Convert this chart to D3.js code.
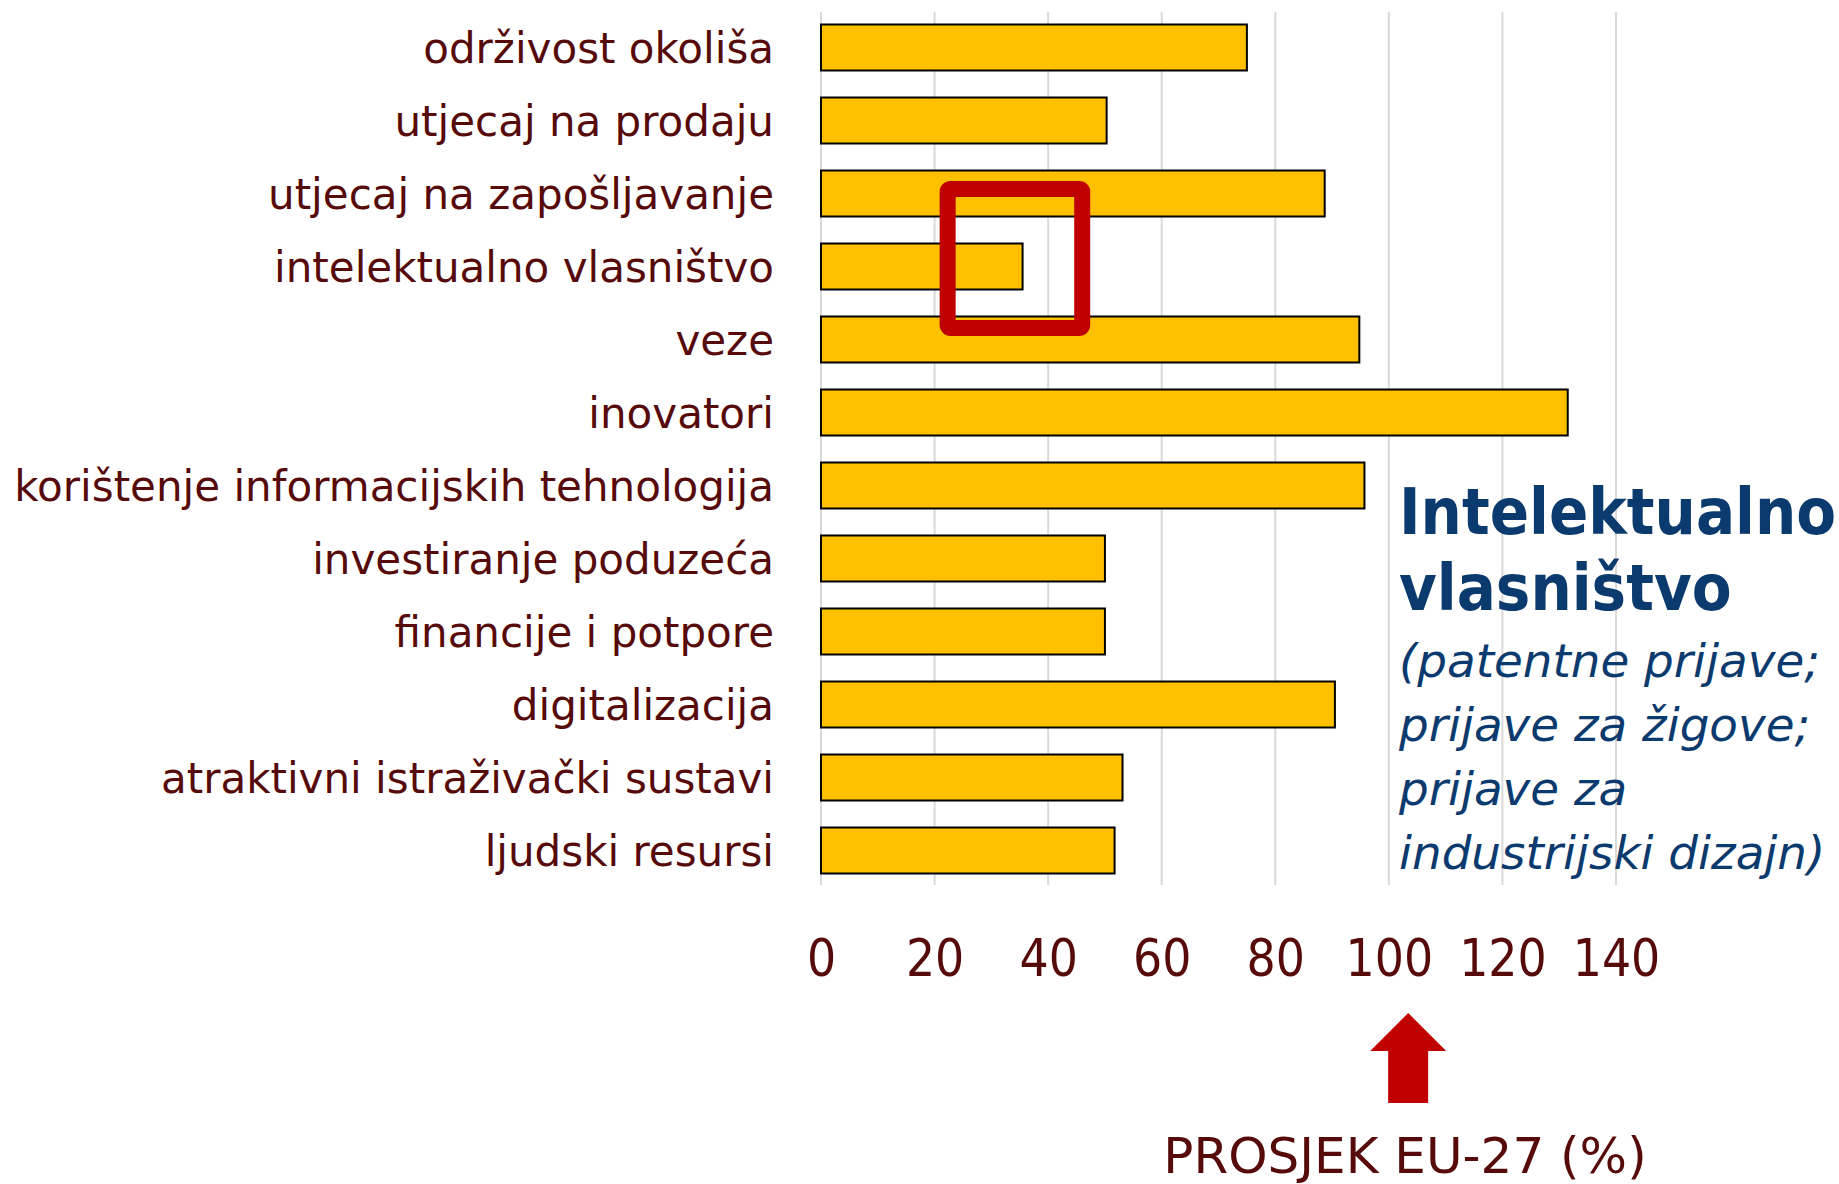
<!DOCTYPE html>
<html>
<head>
<meta charset="utf-8">
<script src="https://cdn.jsdelivr.net/npm/d3@7"></script>
<style>
  body { margin: 0; background: #fff; }
  svg { display: block; }
</style>
</head>
<body>
<div id="chart"></div>
<script>
// categories, top to bottom
const categories = [
  "održivost okoliša",
  "utjecaj na prodaju",
  "utjecaj na zapošljavanje",
  "intelektualno vlasništvo",
  "veze",
  "inovatori",
  "korištenje informacijskih tehnologija",
  "investiranje poduzeća",
  "financije i potpore",
  "digitalizacija",
  "atraktivni istraživački sustavi",
  "ljudski resursi"
];
// % of EU-27 average
const values = [75.0, 50.3, 88.7, 35.5, 94.8, 131.5, 95.7, 50.0, 50.0, 90.5, 53.1, 51.7];
const xTicks = [0, 20, 40, 60, 80, 100, 120, 140];
const titleLines = ["Intelektualno", "vlasništvo"];
const noteLines = ["(patentne prijave;", "prijave za žigove;", "prijave za", "industrijski dizajn)"];
const axisTitle = "PROSJEK EU-27 (%)";
const euMark = 103.4; // where the arrow points
const highlight = { from: "utjecaj na zapošljavanje", to: "veze", x0: 22.3, x1: 46 };

const W = 1839, H = 1184;
const labelColor = "#570a0a";
const navy = "#0b3a6e";
const red = "#c00000";
const wide = "'DejaVu Sans', sans-serif";
const narrow = "'DejaVu Sans Condensed', 'DejaVu Sans', sans-serif";

const svg = d3.select("#chart").append("svg")
  .attr("width", W)
  .attr("height", H)
  .style("font-family", wide);

const x = d3.scaleLinear()
  .domain([0, 140])
  .range([821, 1616]);

const y = d3.scaleBand()
  .domain(categories)
  .range([11, 887])
  .paddingInner(0.37)
  .paddingOuter(0.185);

// gridlines
svg.append("g")
  .selectAll("line")
  .data(xTicks)
  .join("line")
  .attr("x1", d => x(d))
  .attr("x2", d => x(d))
  .attr("y1", 12)
  .attr("y2", 885)
  .attr("stroke", "#d9d9d9")
  .attr("stroke-width", 2);

// bars
svg.append("g")
  .selectAll("rect")
  .data(values)
  .join("rect")
  .attr("x", x(0))
  .attr("y", (d, i) => y(categories[i]))
  .attr("width", d => x(d) - x(0))
  .attr("height", y.bandwidth())
  .attr("fill", "#ffc000")
  .attr("stroke", "#000")
  .attr("stroke-width", 2);

// category labels
svg.append("g")
  .selectAll("text")
  .data(categories)
  .join("text")
  .attr("x", 774)
  .attr("y", d => y(d) + y.bandwidth() / 2)
  .attr("dy", "0.36em")
  .attr("text-anchor", "end")
  .attr("fill", labelColor)
  .style("font-size", "42px")
  .text(d => d);

// x axis (labels only)
const xAxis = svg.append("g")
  .attr("transform", "translate(0,940)")
  .call(d3.axisBottom(x).tickValues(xTicks).tickSize(0).tickPadding(0));
xAxis.select(".domain").remove();
xAxis.selectAll("text")
  .attr("fill", labelColor)
  .attr("dy", "0.71em")
  .style("font-family", narrow)
  .style("font-size", "51px");

// red highlight box
svg.append("rect")
  .attr("x", x(highlight.x0))
  .attr("y", y(highlight.from) + y.bandwidth() * 0.4)
  .attr("width", x(highlight.x1) - x(highlight.x0))
  .attr("height", (y(highlight.to) + y.bandwidth() * 0.25) - (y(highlight.from) + y.bandwidth() * 0.4))
  .attr("rx", 3)
  .attr("fill", "none")
  .attr("stroke", red)
  .attr("stroke-width", 16);

// side note
const note = svg.append("text")
  .attr("x", 1399)
  .attr("fill", navy);
titleLines.forEach((t, i) => {
  note.append("tspan")
    .attr("x", 1399)
    .attr("y", 534 + i * 76)
    .style("font-family", narrow)
    .style("font-weight", "bold")
    .style("font-size", "64.5px")
    .text(t);
});
noteLines.forEach((t, i) => {
  note.append("tspan")
    .attr("x", 1399)
    .attr("y", 677 + i * 64)
    .style("font-style", "italic")
    .style("font-size", "46.8px")
    .text(t);
});

// arrow pointing at the EU average
const ax = x(euMark);
const arrow = d3.path();
arrow.moveTo(ax, 1013);
arrow.lineTo(ax + 38, 1051);
arrow.lineTo(ax + 20, 1051);
arrow.lineTo(ax + 20, 1103);
arrow.lineTo(ax - 20, 1103);
arrow.lineTo(ax - 20, 1051);
arrow.lineTo(ax - 38, 1051);
arrow.closePath();
svg.append("path")
  .attr("d", arrow.toString())
  .attr("fill", red);

svg.append("text")
  .attr("x", 1405)
  .attr("y", 1173)
  .attr("text-anchor", "middle")
  .attr("fill", labelColor)
  .style("font-size", "50px")
  .text(axisTitle);
</script>
</body>
</html>
